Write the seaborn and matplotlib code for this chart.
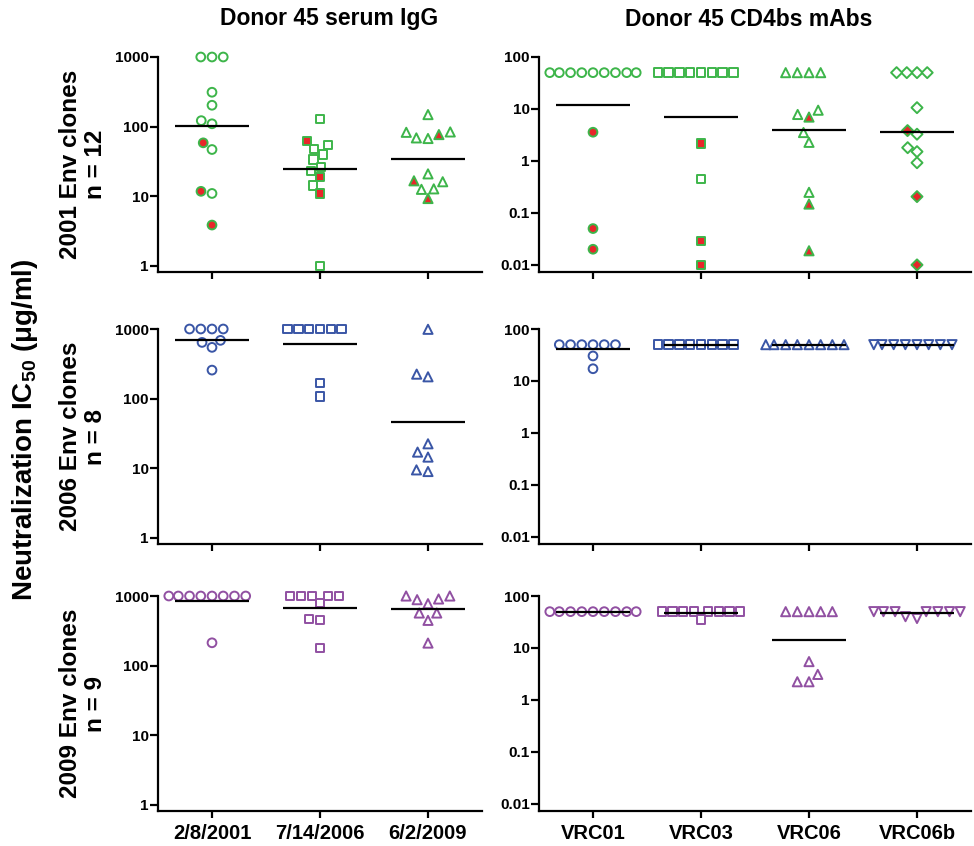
import warnings
import numpy as np
import pandas as pd
import matplotlib
matplotlib.use("Agg")
import matplotlib.pyplot as plt
import seaborn as sns

warnings.filterwarnings("ignore")
sns.set_theme(style="ticks")
plt.rcParams['font.family'] = ['Liberation Sans', 'DejaVu Sans']
plt.rcParams['font.weight'] = 'bold'
plt.rcParams['mathtext.fontset'] = 'custom'
plt.rcParams['mathtext.rm'] = 'Liberation Sans:bold'
plt.rcParams['mathtext.default'] = 'rm'
for k in ['text.color', 'axes.labelcolor', 'xtick.color', 'ytick.color', 'axes.edgecolor']:
    plt.rcParams[k] = 'black'

# ---------------- categories / labels ----------------
dates = ["2/8/2001", "7/14/2006", "6/2/2009"]
mabs = ["VRC01", "VRC03", "VRC06", "VRC06b"]
col_titles = ["Donor 45 serum IgG", "Donor 45 CD4bs mAbs"]
row_labels = ["2001 Env clones\nn = 12", "2006 Env clones\nn = 8", "2009 Env clones\nn = 9"]
left_ticks = [1, 10, 100, 1000]
left_ticklabels = ["1", "10", "100", "1000"]
right_ticks = [0.01, 0.1, 1, 10, 100]
right_ticklabels = ["0.01", "0.1", "1", "10", "100"]

# ---------------- data (IC50, ug/ml); "filled" = red-filled markers ----------------
# 2001 Env clones, serum IgG
env2001_serum_open = {
    "2/8/2001": [1000, 1000, 1000, 312, 203, 122, 110, 47, 11.0],
    "7/14/2006": [129, 54, 48, 40, 33.8, 26.5, 23, 14.3, 1.0],
    "6/2/2009": [149, 83, 84, 67.6, 69, 16.2, 21, 12.8, 12.6],
}
env2001_serum_filled = {
    "2/8/2001": [58.6, 11.8, 3.87],
    "7/14/2006": [62, 18.9, 11],
    "6/2/2009": [77, 16.7, 9.3],
}
# 2001 Env clones, CD4bs mAbs
env2001_mab_open = {
    "VRC01": [50, 50, 50, 50, 50, 50, 50, 50, 50],
    "VRC03": [50, 50, 50, 50, 50, 50, 50, 50, 0.453],
    "VRC06": [50, 50, 50, 50, 7.84, 9.47, 3.52, 2.28, 0.249],
    "VRC06b": [50, 50, 50, 50, 10.6, 3.27, 1.80, 1.51, 0.923],
}
env2001_mab_filled = {
    "VRC01": [3.57, 0.05, 0.020],
    "VRC03": [2.18, 0.0285, 0.01],
    "VRC06": [6.98, 0.148, 0.0187],
    "VRC06b": [3.84, 0.206, 0.01],
}
# 2006 Env clones
env2006_serum = {
    "2/8/2001": [1000, 1000, 1000, 1000, 642, 687, 545, 257],
    "7/14/2006": [1000, 1000, 1000, 1000, 1000, 1000, 167, 108],
    "6/2/2009": [990, 225, 206, 22.5, 17.1, 14.5, 9.0, 9.5],
}
env2006_mab = {
    "VRC01": [50, 50, 50, 50, 50, 50, 30.3, 17.2],
    "VRC03": [50, 50, 50, 50, 50, 50, 50, 50],
    "VRC06": [50, 50, 50, 50, 50, 50, 50, 50],
    "VRC06b": [50, 50, 50, 50, 50, 50, 50, 50],
}
# 2009 Env clones
env2009_serum = {
    "2/8/2001": [1000, 1000, 1000, 1000, 1000, 1000, 1000, 1000, 213],
    "7/14/2006": [1000, 1000, 1000, 1000, 1000, 802, 467, 452, 181],
    "6/2/2009": [1000, 906, 776, 886, 1000, 570, 570, 447, 211],
}
env2009_mab = {
    "VRC01": [50, 50, 50, 50, 50, 50, 50, 50, 50],
    "VRC03": [50, 50, 50, 50, 50, 50, 50, 50, 35.3],
    "VRC06": [50, 50, 50, 50, 50, 5.47, 3.1, 2.24, 2.24],
    "VRC06b": [50, 50, 50, 50, 50, 50, 50, 36.9, 40],
}

# ---------------- styles ----------------
GREEN = "#3DB54A"
BLUE = "#3A56A6"
PURPLE = "#9150A2"
RED = "#E8262A"
row_colors = [GREEN, BLUE, PURPLE]
left_markers = ["o", "s", "^"]
right_markers = [["o", "s", "^", "D"], ["o", "s", "^", "v"], ["o", "s", "^", "v"]]
marker_sizes = {"o": 6.3, "s": 6.0, "^": 6.6, "v": 6.6, "D": 5.6}


def make_df(open_d, filled_d=None):
    rows = []
    for cat, vals in open_d.items():
        for v in vals:
            rows.append((cat, v, "open"))
    if filled_d:
        for cat, vals in filled_d.items():
            for v in vals:
                rows.append((cat, v, "filled"))
    return pd.DataFrame(rows, columns=["cat", "val", "kind"])


panels = [
    (make_df(env2001_serum_open, env2001_serum_filled), make_df(env2001_mab_open, env2001_mab_filled)),
    (make_df(env2006_serum), make_df(env2006_mab)),
    (make_df(env2009_serum), make_df(env2009_mab)),
]

W, H = 974, 846
fig = plt.figure(figsize=(W / 100, H / 100), dpi=100)

row_tops = [57, 329, 596]
ax_h = 215
top_margin = 8
left_x0, left_x1 = 158, 482
right_x0, right_x1 = 539, 971


def style_axes(ax, ticks, ticklabels, bottom, top):
    ax.set_yscale("log")
    # extend upper limit a few pixels so markers at the top value are not clipped
    span = np.log10(top) - np.log10(bottom)
    upper = top * 10 ** (span * top_margin / ax_h)
    ax.set_ylim(bottom, upper)
    ax.set_yticks(ticks)
    ax.set_yticklabels(ticklabels)
    ax.yaxis.set_minor_locator(matplotlib.ticker.NullLocator())
    ax.set_xlabel("")
    ax.set_ylabel("")
    for s in ["top", "right"]:
        ax.spines[s].set_visible(False)
    for s in ["left", "bottom"]:
        ax.spines[s].set_linewidth(1.6)
        ax.spines[s].set_color("black")
    ax.spines["left"].set_bounds(bottom, top)
    ax.tick_params(axis="y", length=5.5, width=1.6, labelsize=11, pad=1, colors="black")
    ax.tick_params(axis="x", length=5, width=1.6, labelsize=14.5, pad=4, colors="black")
    for t in ax.get_yticklabels() + ax.get_xticklabels():
        t.set_fontweight("bold")


def draw_panel(ax, df, cats, markers, color):
    for i, cat in enumerate(cats):
        sub = df[df["cat"] == cat]
        m = markers[i]
        sns.swarmplot(data=sub, x="cat", y="val", hue="kind", order=cats,
                      hue_order=["open", "filled"],
                      palette={"open": "white", "filled": RED},
                      marker=m, size=marker_sizes[m], edgecolor=color, linewidth=1.4,
                      legend=False, ax=ax, log_scale=True)
        gm = np.exp(np.mean(np.log(sub["val"].values)))
        ax.hlines(gm, i - 0.34, i + 0.34, color="black", linewidth=1.6, zorder=5)
    ax.set_xlim(-0.5, len(cats) - 0.5)


for r in range(3):
    top_px = row_tops[r] - top_margin
    hh = ax_h + top_margin
    bot = 1 - (top_px + hh) / H
    hfrac = hh / H
    axl = fig.add_axes([left_x0 / W, bot, (left_x1 - left_x0) / W, hfrac])
    axr = fig.add_axes([right_x0 / W, bot, (right_x1 - right_x0) / W, hfrac])
    df_l, df_r = panels[r]
    draw_panel(axl, df_l, dates, left_markers, row_colors[r])
    draw_panel(axr, df_r, mabs, right_markers[r], row_colors[r])
    style_axes(axl, left_ticks, left_ticklabels, 0.82, 1000)
    style_axes(axr, right_ticks, right_ticklabels, 0.0073, 100)
    if r < 2:
        axl.set_xticklabels([])
        axr.set_xticklabels([])
    # row label
    fig.text(83 / W, 1 - (row_tops[r] + ax_h / 2) / H, row_labels[r], rotation=90,
             ha="center", va="center", multialignment="center",
             fontsize=17.5, fontweight="bold", linespacing=1.1)

fig.text(329 / W, 1 - 19 / H, col_titles[0], ha="center", va="center",
         fontsize=16.5, fontweight="bold")
fig.text(749 / W, 1 - 19 / H, col_titles[1], ha="center", va="center",
         fontsize=16.5, fontweight="bold")
fig.text(25 / W, 1 - 430 / H, "Neutralization IC$_{50}$ (μg/ml)", rotation=90,
         ha="center", va="center", fontsize=20, fontweight="bold")

fig.savefig("out.png", dpi=100, facecolor="white")
